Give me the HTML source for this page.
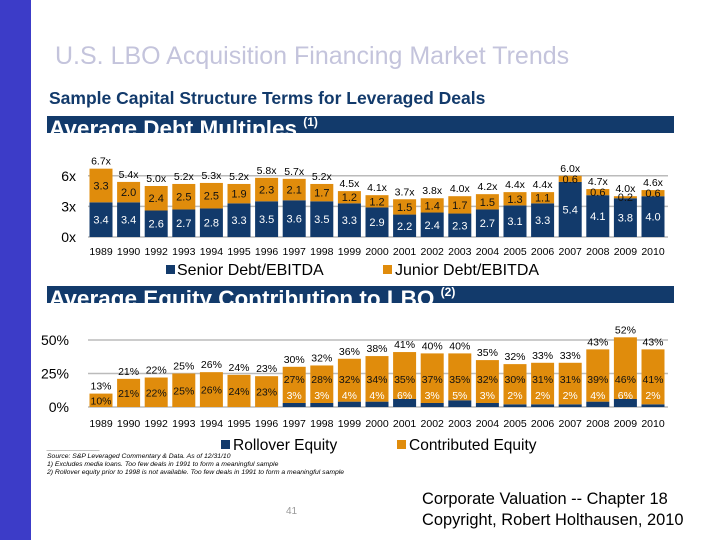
<!DOCTYPE html>
<html><head><meta charset="utf-8"><style>
body{margin:0;width:720px;height:540px;background:#fff;position:relative;overflow:hidden;font-family:"Liberation Sans",sans-serif}
.abs{position:absolute}
.hdr{position:absolute;left:47px;width:625px;height:17px;background:#123a6b;overflow:hidden;color:#fff;font-weight:bold;font-size:22.5px;line-height:26px;padding-left:2px}
.hdr sup{font-size:12px;vertical-align:top;line-height:12px}
svg text{font-family:"Liberation Sans",sans-serif}
</style></head><body>
<div class="abs" style="left:0;top:0;width:31px;height:540px;background:#3c3cc8"></div>
<div class="abs" style="left:55px;top:42px;font-size:25px;color:#c4c4dc">U.S. LBO Acquisition Financing Market Trends</div>
<div class="abs" style="left:49px;top:88px;font-size:17.5px;font-weight:bold;color:#123a6b">Sample Capital Structure Terms for Leveraged Deals</div>
<div class="hdr" style="top:116px">Average Debt Multiples <sup>(1)</sup></div>
<div class="hdr" style="top:286px">Average Equity Contribution to LBO <sup>(2)</sup></div>
<svg class="abs" style="left:0;top:0" width="720" height="540" id="chart"></svg>
<div class="abs" style="left:47px;top:445px;font-size:6.8px;font-style:italic;line-height:8px;color:#000">______________<br>Source: S&amp;P Leveraged Commentary &amp; Data. As of 12/31/10<br>1) Excludes media loans. Too few deals in 1991 to form a meaningful sample<br>2) Rollover equity prior to 1998 is not available. Too few deals in 1991 to form a meaningful sample</div>
<div class="abs" style="left:286px;top:506px;font-size:10px;color:#999">41</div>
<div class="abs" style="left:422px;top:489px;font-size:16.4px;line-height:21px;color:#000">Corporate Valuation -- Chapter 18<br>Copyright, Robert Holthausen, 2010</div>
<script>
const years=['1989','1990','1992','1993','1994','1995','1996','1997','1998','1999','2000','2001','2002','2003','2004','2005','2006','2007','2008','2009','2010'];
const senior=[3.4,3.4,2.6,2.7,2.8,3.3,3.5,3.6,3.5,3.3,2.9,2.2,2.4,2.3,2.7,3.1,3.3,5.4,4.1,3.8,4.0];
const junior=[3.3,2.0,2.4,2.5,2.5,1.9,2.3,2.1,1.7,1.2,1.2,1.5,1.4,1.7,1.5,1.3,1.1,0.6,0.6,0.2,0.6];
const debtTotals=['6.7x','5.4x','5.0x','5.2x','5.3x','5.2x','5.8x','5.7x','5.2x','4.5x','4.1x','3.7x','3.8x','4.0x','4.2x','4.4x','4.4x','6.0x','4.7x','4.0x','4.6x'];
const rollover=[0,0,0,0,0,0,0,3,3,4,4,6,3,5,3,2,2,2,4,6,2];
const contrib=[10,21,22,25,26,24,23,27,28,32,34,35,37,35,32,30,31,31,39,46,41];
const eqTotals=[13,21,22,25,26,24,23,30,32,36,38,41,40,40,35,32,33,33,43,52,43];
const debtTicks=[0,3,6], eqTicks=[0,25,50];
const NAVY='#123a6b',ORANGE='#e08c0c';
const svg=document.getElementById('chart');const NS='http://www.w3.org/2000/svg';
function el(t,a,txt){const e=document.createElementNS(NS,t);for(const k in a)e.setAttribute(k,a[k]);if(txt!==undefined)e.textContent=txt;svg.appendChild(e);return e;}
const xC=i=>101+i*27.6;const BW=23;
const y1=v=>237-v*10.2;const y2=v=>407-v*1.34;
// chart 1
debtTicks.forEach(t=>{const g=el('line',{x1:88,x2:668,y1:y1(t),y2:y1(t),stroke:'#bbb','stroke-width':1.5});

const l=el('text',{x:76,y:y1(t)+5,'font-size':14,'text-anchor':'end'},t+'x');});
years.forEach((yr,i)=>{const x=xC(i)-BW/2;
let r=el('rect',{x:x,y:y1(senior[i]),width:BW,height:y1(0)-y1(senior[i]),fill:NAVY});
r=el('rect',{x:x,y:y1(senior[i]+junior[i]),width:BW,height:y1(0)-y1(junior[i]),fill:ORANGE});
let t=el('text',{x:xC(i),y:(y1(0)+y1(senior[i]))/2+4,'font-size':11,fill:'#fff','text-anchor':'middle'},senior[i].toFixed(1));
t=el('text',{x:xC(i),y:(y1(senior[i])+y1(senior[i]+junior[i]))/2+4,'font-size':11,fill:'#111','text-anchor':'middle'},junior[i].toFixed(1));
t=el('text',{x:xC(i),y:y1(senior[i]+junior[i])-4,'font-size':10.5,'text-anchor':'middle'},debtTotals[i]);
t=el('text',{x:xC(i),y:255,'font-size':10.5,'text-anchor':'middle'},yr);});
let r=el('rect',{x:166,y:265,width:9,height:9,fill:NAVY});
let t=el('text',{x:177,y:275,'font-size':16},'Senior Debt/EBITDA');
r=el('rect',{x:383,y:265,width:9,height:9,fill:ORANGE});
t=el('text',{x:395,y:275,'font-size':16},'Junior Debt/EBITDA');
// chart 2
eqTicks.forEach(t=>{const g=el('line',{x1:88,x2:668,y1:y2(t),y2:y2(t),stroke:'#bbb','stroke-width':1.5});

const l=el('text',{x:69,y:y2(t)+5,'font-size':14,'text-anchor':'end'},t+'%');});
years.forEach((yr,i)=>{const x=xC(i)-BW/2;
let r=el('rect',{x:x,y:y2(rollover[i]),width:BW,height:y2(0)-y2(rollover[i]),fill:NAVY});
r=el('rect',{x:x,y:y2(rollover[i]+contrib[i]),width:BW,height:y2(0)-y2(contrib[i]),fill:ORANGE});
const hasR=rollover[i]>0;
let t=el('text',{x:xC(i),y:hasR?y2(0)-8:(y2(0)+y2(contrib[i]))/2+4,'font-size':10.5,fill:hasR?'#fff':'#111','text-anchor':'middle'},hasR?rollover[i]+'%':contrib[i]+'%');
if(hasR){t=el('text',{x:xC(i),y:y2(0)-24,'font-size':10.5,fill:'#111','text-anchor':'middle'},contrib[i]+'%');}
t=el('text',{x:xC(i),y:y2(rollover[i]+contrib[i])-4,'font-size':10.5,'text-anchor':'middle'},eqTotals[i]+'%');
t=el('text',{x:xC(i),y:427,'font-size':10.5,'text-anchor':'middle'},yr);});
r=el('rect',{x:221,y:440,width:9,height:9,fill:NAVY});
t=el('text',{x:233,y:450,'font-size':15.5},'Rollover Equity');
r=el('rect',{x:397,y:440,width:9,height:9,fill:ORANGE});
t=el('text',{x:409,y:450,'font-size':15.5},'Contributed Equity');
</script>
</body></html>
